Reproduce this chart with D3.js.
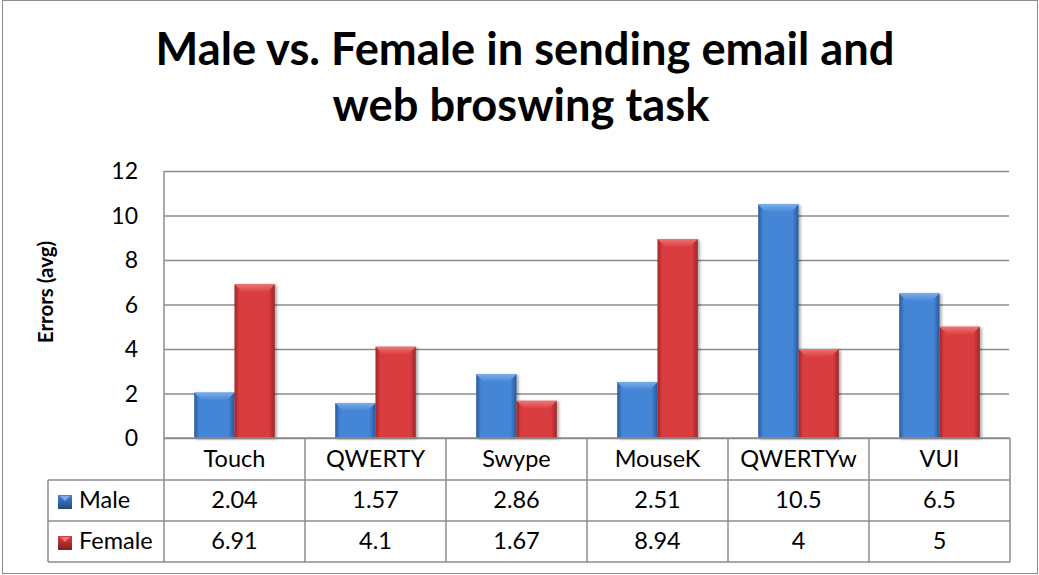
<!DOCTYPE html>
<html>
<head>
<meta charset="utf-8">
<script src="https://cdn.jsdelivr.net/npm/d3@7"></script>
<style>
  html, body { margin: 0; padding: 0; background: #fff; }
  svg { display: block; }
</style>
</head>
<body>
<svg id="chart" width="1039" height="575"></svg>
<script>
// ---- data ----
const categories = ["Touch", "QWERTY", "Swype", "MouseK", "QWERTYw", "VUI"];
const seriesNames = ["Male", "Female"];
const maleValues = [2.04, 1.57, 2.86, 2.51, 10.5, 6.5];
const femaleValues = [6.91, 4.1, 1.67, 8.94, 4, 5];
const yTicks = [0, 2, 4, 6, 8, 10, 12];
const titleLines = ["Male vs. Female in sending email and", "web broswing task"];
const yTitle = "Errors (avg)";

const seriesValues = [maleValues, femaleValues];

// ---- layout ----
const plotLeft = 164, plotRight = 1010, plotTop = 171, plotBottom = 438;
const rowH = 41;
const tableTop = plotBottom, headerBottom = 480;
const legendLeft = 48;
const font = "Lato, 'Open Sans', sans-serif";
const gridColor = "#8c8c8c";
const textSize = 23.5;

const svg = d3.select("#chart");
const defs = svg.append("defs");

const palette = {
  Male:   { edge: "#2a5899", mid: "#4485d6", light: "#78ade9", dark: "#24497f" },
  Female: { edge: "#a02426", mid: "#da3e40", light: "#ee7474", dark: "#851d1d" }
};
seriesNames.forEach(s => {
  const p = palette[s];
  const g = defs.append("linearGradient").attr("id", "body-" + s)
    .attr("x1", "0").attr("x2", "1").attr("y1", "0").attr("y2", "0");
  g.append("stop").attr("offset", "0%").attr("stop-color", p.edge);
  g.append("stop").attr("offset", "12%").attr("stop-color", p.mid);
  g.append("stop").attr("offset", "50%").attr("stop-color", p.mid);
  g.append("stop").attr("offset", "85%").attr("stop-color", p.mid);
  g.append("stop").attr("offset", "100%").attr("stop-color", p.edge);
  const t = defs.append("linearGradient").attr("id", "top-" + s)
    .attr("x1", "0").attr("x2", "0").attr("y1", "0").attr("y2", "1");
  t.append("stop").attr("offset", "0%").attr("stop-color", p.light);
  t.append("stop").attr("offset", "100%").attr("stop-color", p.mid);
  const k = defs.append("linearGradient").attr("id", "key-" + s)
    .attr("x1", "0").attr("x2", "0").attr("y1", "0").attr("y2", "1");
  k.append("stop").attr("offset", "0%").attr("stop-color", p.mid);
  k.append("stop").attr("offset", "100%").attr("stop-color", p.dark);
});
const shadow = defs.append("filter").attr("id", "shadow")
  .attr("x", "-20%").attr("y", "-10%").attr("width", "150%").attr("height", "130%");
shadow.append("feDropShadow").attr("dx", 2).attr("dy", 1).attr("stdDeviation", 1.8)
  .attr("flood-color", "#000").attr("flood-opacity", 0.35);

// outer border
svg.append("rect").attr("x", 2.5).attr("y", 0.5).attr("width", 1035).attr("height", 573)
  .attr("fill", "#fff").attr("stroke", gridColor).attr("stroke-width", 1);

// ---- scales ----
const x = d3.scaleBand().domain(categories).range([plotLeft, plotRight]).padding(0);
const xs = d3.scaleBand().domain(seriesNames).range([0, x.bandwidth()])
  .paddingInner(0).paddingOuter(0.75);
const y = d3.scaleLinear().domain([0, 12]).range([plotBottom, plotTop]);

// ---- title ----
const titleG = svg.append("g").attr("font-family", font).attr("font-weight", "bold")
  .attr("fill", "#000").attr("text-anchor", "middle");
const t1 = titleG.append("text").attr("x", 525).attr("y", 65)
  .attr("font-size", 40).text(titleLines[0]);
const w1 = t1.node().getComputedTextLength();
const fs = 40 * 739 / w1;
t1.attr("font-size", fs);
titleG.append("text").attr("x", 521).attr("y", 121).attr("font-size", fs).text(titleLines[1]);

// ---- gridlines + y axis ----
const yAxis = d3.axisLeft(y).tickValues(yTicks).tickSize(-(plotRight - plotLeft - 1))
  .tickPadding(26).tickFormat(d3.format("d"));
const ga = svg.append("g").attr("transform", `translate(${plotLeft},0)`).call(yAxis);
ga.select(".domain").remove();
ga.selectAll(".tick line").attr("stroke", gridColor).attr("stroke-width", 1.5);
ga.selectAll(".tick text").attr("font-family", font).attr("font-size", 23)
  .attr("fill", "#000").attr("dy", "0.33em");

// y-axis title
svg.append("text")
  .attr("transform", `translate(53,${292}) rotate(-90)`)
  .attr("text-anchor", "middle").attr("font-family", font).attr("font-weight", "bold")
  .attr("font-size", 20.5).attr("fill", "#000").text(yTitle);

// ---- bars ----
const bevel = 8;
const barData = [];
categories.forEach((c, i) => {
  seriesNames.forEach((s, j) => {
    barData.push({ cat: c, series: s, value: seriesValues[j][i] });
  });
});
const bars = svg.append("g").selectAll("g.bar").data(barData).join("g").attr("class", "bar")
  .attr("filter", "url(#shadow)");
bars.append("rect")
  .attr("x", d => x(d.cat) + xs(d.series))
  .attr("y", d => y(d.value))
  .attr("width", xs.bandwidth())
  .attr("height", d => y(0) - y(d.value))
  .attr("fill", d => `url(#body-${d.series})`);
bars.append("path")
  .attr("d", d => {
    const x0 = x(d.cat) + xs(d.series), x1 = x0 + xs.bandwidth(), t = y(d.value);
    const b = Math.min(bevel, (y(0) - t) / 2);
    return `M${x0},${t}L${x1},${t}L${x1 - b},${t + b}L${x0 + b},${t + b}Z`;
  })
  .attr("fill", d => `url(#top-${d.series})`);

// ---- data table ----
const tbl = svg.append("g").attr("stroke", gridColor).attr("stroke-width", 1.5);
tbl.append("line").attr("x1", plotLeft).attr("x2", plotLeft)
  .attr("y1", plotTop).attr("y2", headerBottom + 2 * rowH);
[[plotLeft, tableTop], [legendLeft, headerBottom], [legendLeft, headerBottom + rowH], [legendLeft, headerBottom + 2 * rowH]]
  .forEach(([x0, yy]) => tbl.append("line").attr("x1", x0).attr("x2", plotRight).attr("y1", yy).attr("y2", yy));
tbl.append("line").attr("x1", legendLeft).attr("x2", legendLeft)
  .attr("y1", headerBottom).attr("y2", headerBottom + 2 * rowH);
tbl.selectAll("line.cb").data(categories).join("line").attr("class", "cb")
  .attr("x1", d => x(d) + x.bandwidth()).attr("x2", d => x(d) + x.bandwidth())
  .attr("y1", tableTop).attr("y2", headerBottom + 2 * rowH);

const txt = svg.append("g").attr("font-family", font).attr("font-size", textSize).attr("fill", "#000");
txt.selectAll("text.cat").data(categories).join("text").attr("class", "cat")
  .attr("x", d => x(d) + x.bandwidth() / 2).attr("y", 467)
  .attr("text-anchor", "middle").text(d => d);
seriesNames.forEach((s, j) => {
  const yb = headerBottom + j * rowH + 28;
  txt.selectAll("text.v" + j).data(categories).join("text").attr("class", "v" + j)
    .attr("x", d => x(d) + x.bandwidth() / 2).attr("y", yb)
    .attr("text-anchor", "middle").text((d, i) => String(seriesValues[j][i]));
  const ky = headerBottom + j * rowH + 15;
  svg.append("rect").attr("x", 58).attr("y", ky).attr("width", 14).attr("height", 14)
    .attr("fill", `url(#key-${s})`);
  svg.append("path").attr("d", `M60,${ky + 1}L70,${ky + 1}L65,${ky + 6}Z`)
    .attr("fill", palette[s].light);
  txt.append("text").attr("x", 79).attr("y", yb).text(s);
});
</script>
</body>
</html>
